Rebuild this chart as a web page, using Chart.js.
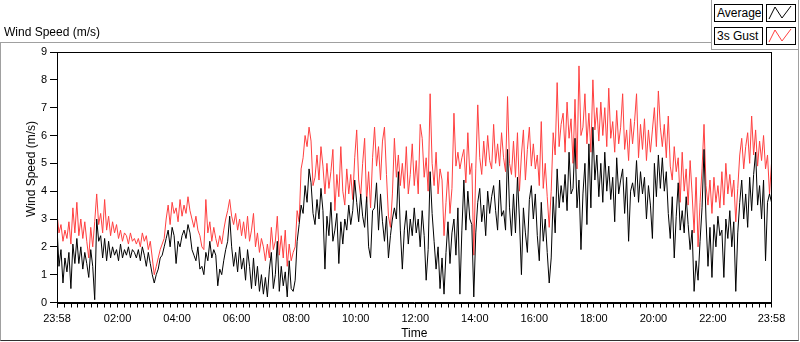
<!DOCTYPE html>
<html>
<head>
<meta charset="utf-8">
<script src="https://cdn.jsdelivr.net/npm/chart.js@4.4.1/dist/chart.umd.min.js"></script>
<style>
html,body{margin:0;padding:0;background:#fff;}
#wrap{position:relative;width:800px;height:342px;overflow:hidden;background:#fff;font-family:"Liberation Sans",Arial,sans-serif;color:#000;}
#frame{position:absolute;left:0;top:42px;width:799px;height:299px;box-sizing:border-box;border:1px solid #a0a0a0;border-bottom-color:#303030;}
#c{position:absolute;left:0;top:0;}
#title{position:absolute;left:4px;top:25px;font-size:12px;line-height:14px;white-space:nowrap;}
#ytitle{position:absolute;left:31px;top:169px;font-size:12px;line-height:14px;white-space:nowrap;transform:translate(-50%,-50%) rotate(-90deg);}
#legend{position:absolute;left:711px;top:-1px;width:88px;height:51px;box-sizing:border-box;border:1px solid #a0a0a0;background:#fff;}
.lbox{position:absolute;width:49px;height:18px;box-sizing:border-box;border:1px solid #000;font-size:12px;line-height:16px;padding-left:2px;white-space:nowrap;background:#fff;}
.ibox{position:absolute;width:30px;height:18px;box-sizing:border-box;border:1px solid #000;background:#fff;}
.ibox svg{position:absolute;left:0;top:0;}
</style>
</head>
<body>
<div id="wrap">
  <div id="frame"></div>
  <canvas id="c" width="800" height="342"></canvas>
  <div id="title">Wind Speed (m/s)</div>
  <div id="ytitle">Wind Speed (m/s)</div>
  <div id="legend"></div>
  <div class="lbox" style="left:714px;top:4px;">Average</div>
  <div class="ibox" style="left:766px;top:4px;"><svg width="28" height="16"><polyline points="2,14 8,2 15,13 24,1" fill="none" stroke="#000" stroke-width="1"/></svg></div>
  <div class="lbox" style="left:714px;top:27px;">3s Gust</div>
  <div class="ibox" style="left:766px;top:27px;"><svg width="28" height="16"><polyline points="2,14 8,2 15,13 24,1" fill="none" stroke="#ff4040" stroke-width="1"/></svg></div>
</div>
<script>
// ---- data (minutes since 23:58, one sample every 4 minutes) ----
const sampleStepMin = 4;
const avgSpeed = [
2.7,1.3,1.9,0.7,1.6, 1.1,1.8,0.5,2.1,1.4, 2.3,1.4,2.0,1.2,1.8, 1.4,0.9,1.9,1.3,0.1,
3.0,2.2,2.4,1.6,2.3, 1.5,2.2,1.6,2.0,1.7, 1.9,1.5,2.1,1.6,1.9, 1.7,2.0,1.6,1.9,1.8,
1.6,1.9,1.5,2.0,1.7, 1.3,1.8,1.4,1.0,0.7, 1.0,1.2,1.6,1.7,2.0, 2.3,2.6,2.0,2.7,2.4,
1.4,2.2,2.0,2.4,2.6, 2.3,2.8,2.5,1.9,1.7, 1.5,2.0,1.2,1.3,1.0, 1.8,1.5,2.2,1.6,1.9,
1.7,0.6,1.2,1.0,1.5, 1.9,2.2,3.1,2.0,1.3, 1.8,1.1,2.0,1.2,1.6, 0.8,1.9,1.3,0.5,1.6,
0.6,1.3,0.4,1.0,0.3, 0.9,0.2,1.2,1.8,0.5, 1.0,2.2,0.4,1.3,0.6, 1.1,0.2,1.5,0.5,0.4,
0.8,2.2,2.8,3.5,3.2, 4.2,3.6,4.8,4.3,3.2, 2.8,3.7,3.0,4.1,3.3, 1.2,3.1,2.4,3.6,2.2,
2.6,3.2,1.4,2.9,2.1, 3.0,2.6,3.5,2.8,3.3, 4.4,3.6,2.9,3.9,3.1, 2.7,3.8,2.0,1.6,3.3,
3.4,4.3,2.6,3.9,2.9, 2.2,3.1,1.6,2.4,3.0, 3.4,3.0,4.7,2.6,1.2, 2.6,3.3,2.1,3.0,2.4,
3.4,2.5,3.0,2.0,3.3, 2.4,0.8,1.9,4.7,3.2, 2.2,1.2,2.0,0.5,1.6, 0.3,1.8,2.9,1.4,2.5,
3.0,1.7,3.4,0.3,2.6, 4.4,2.6,4.0,3.0,2.8, 0.2,2.5,3.6,4.1,2.9, 3.5,2.4,4.0,3.2,3.8,
4.2,3.3,2.6,4.4,3.1, 3.3,2.6,5.5,3.4,2.4, 3.9,2.5,4.5,3.0,1.0, 3.4,2.5,1.8,3.7,4.2,
3.0,3.9,2.4,1.5,3.6, 2.2,3.0,1.8,0.7,1.6, 3.8,2.5,4.8,3.4,4.2, 3.6,4.6,3.3,5.4,3.9,
4.1,5.9,3.4,4.4,1.9, 3.9,5.0,2.8,5.7,3.4, 6.3,4.4,5.3,3.8,5.0, 3.6,5.4,4.0,4.9,3.7,
4.5,2.9,5.2,3.9,4.4, 4.8,3.2,4.5,2.2,4.0, 4.3,3.8,5.1,3.6,4.7, 3.9,4.5,3.0,4.2,3.5,
2.3,5.0,3.8,5.3,4.1, 5.2,4.0,4.7,3.2,2.3, 3.8,1.6,3.1,4.3,2.6, 3.3,2.5,3.8,2.8,1.9,
2.6,0.4,1.5,0.8,2.2, 3.4,5.5,3.0,1.3,2.7, 0.9,2.8,2.0,3.1,2.4, 2.6,0.9,3.0,2.3,3.3,
2.0,2.9,0.4,2.5,3.6, 4.4,3.0,3.9,2.7,4.5, 3.3,4.6,5.4,3.5,4.2, 3.0,4.4,1.5,3.6,3.9,
3.6
];
const gustSpeed = [
3.2,2.5,2.8,2.2,2.6, 2.3,2.9,2.1,3.4,2.5, 3.6,2.4,3.0,2.3,2.9, 2.2,1.6,2.7,2.0,2.9,
3.9,2.8,3.2,2.5,3.7, 2.6,3.1,2.4,2.9,2.5, 2.8,2.3,2.6,2.2,2.5, 2.4,2.1,2.5,2.2,2.3,
2.1,2.3,2.0,2.5,2.2, 2.4,1.9,2.2,1.6,1.0, 1.3,1.6,1.9,2.1,2.3, 3.0,3.5,2.8,3.6,3.2,
3.4,2.9,3.7,3.1,3.5, 3.2,3.8,3.3,3.0,2.7, 3.1,2.6,2.4,2.0,1.9, 3.7,2.5,2.9,2.2,2.7,
2.3,2.0,2.4,2.1,2.6, 3.0,3.3,3.7,3.1,2.8, 3.2,2.6,3.0,2.4,2.9, 2.3,3.1,2.2,2.6,3.2,
2.0,2.5,1.8,2.3,2.0, 1.5,2.1,1.6,2.7,1.9, 2.2,3.1,1.7,2.4,1.6, 2.6,1.3,2.1,1.5,1.8,
2.0,3.3,2.9,4.8,5.2, 6.0,5.6,6.3,5.8,4.2, 4.5,5.3,4.4,5.6,4.9, 3.9,5.0,4.1,4.7,5.5,
3.3,4.6,3.8,5.6,4.0, 3.5,4.8,3.9,4.6,3.7, 5.2,6.2,4.4,3.8,5.0, 5.9,3.6,4.7,3.4,5.2,
6.3,4.9,5.6,4.4,5.8, 6.3,4.6,3.1,2.7,3.9, 5.9,4.5,5.3,4.2,5.0, 4.1,5.6,3.9,4.6,5.7,
4.2,5.1,3.9,6.4,5.9, 4.5,5.2,4.0,7.5,5.0, 4.2,5.4,3.9,4.8,4.4, 2.4,3.6,4.7,3.2,4.1,
6.8,4.9,5.4,4.8,5.2, 5.5,4.3,6.1,4.6,5.0, 1.7,4.8,7.1,5.2,4.6, 5.8,4.9,6.0,5.1,4.8,
6.4,5.0,5.7,4.9,6.1, 5.2,4.7,7.4,5.0,4.6, 5.8,4.5,6.1,4.0,5.3, 6.2,4.4,5.5,6.3,4.9,
5.7,4.8,5.3,4.2,6.5, 4.1,5.0,3.8,2.7,4.0, 6.1,5.3,7.9,5.6,6.4, 6.8,5.4,7.2,5.9,6.6,
5.0,7.3,4.8,8.5,6.0, 6.3,7.5,5.7,6.8,5.4, 8.0,6.2,7.0,5.8,7.2, 6.0,7.0,5.6,7.7,5.9,
6.5,5.4,6.9,5.7,6.3, 7.5,5.5,6.2,5.1,6.6, 5.7,6.5,7.5,5.2,6.4, 5.5,6.6,5.1,6.2,5.4,
6.2,7.0,5.6,7.6,6.3, 5.6,6.4,5.2,6.7,4.9, 4.4,5.6,4.7,5.2,3.6, 5.4,4.0,4.8,3.5,5.1,
3.9,2.5,4.5,2.0,3.6, 4.8,6.4,4.2,3.5,4.4, 3.2,4.5,3.6,4.2,3.4, 4.7,3.5,5.0,3.9,4.6,
3.8,4.4,2.9,4.1,5.3, 5.9,4.8,5.6,6.1,5.0, 6.7,5.3,6.2,4.9,5.8, 5.1,6.0,4.8,5.3,3.9,
5.0
];
// ---- axes ----
const xTickMinutes = [0,122,242,362,482,602,722,842,962,1082,1202,1322,1440];
const xTickLabels = ['23:58','02:00','04:00','06:00','08:00','10:00','12:00','14:00','16:00','18:00','20:00','22:00','23:58'];
const xMinorPerMajor = 9;
const yMin = 0, yMax = 9;

const toPoints = arr => arr.map((v, i) => ({x: i * sampleStepMin, y: v}));

const frameBox = {
  id: 'frameBox',
  afterDatasetsDraw(chart) {
    const {ctx, chartArea: a} = chart;
    ctx.save();
    ctx.strokeStyle = '#000';
    ctx.lineWidth = 1;
    ctx.strokeRect(Math.round(a.left) + 0.5, Math.round(a.top) + 0.5,
                   Math.round(a.right - a.left) - 1, Math.round(a.bottom - a.top));
    ctx.restore();
  }
};

const fontTick = {family: '"Liberation Sans", Arial, sans-serif', size: 11};

new Chart(document.getElementById('c'), {
  type: 'line',
  data: {
    datasets: [
      {label: 'Average', data: toPoints(avgSpeed), borderColor: '#000000', borderWidth: 1, pointRadius: 0, tension: 0},
      {label: '3s Gust', data: toPoints(gustSpeed), borderColor: '#ff4040', borderWidth: 1, pointRadius: 0, tension: 0}
    ]
  },
  options: {
    responsive: false,
    animation: false,
    devicePixelRatio: 1,
    layout: {padding: {top: 52, right: 28.5, left: 0, bottom: 0}},
    plugins: {legend: {display: false}, tooltip: {enabled: false}},
    scales: {
      x: {
        type: 'linear',
        min: 0, max: 1440,
        afterFit: s => { s.height = 39.5; },
        afterBuildTicks: s => {
          const step = (xTickMinutes[2] - xTickMinutes[1]) / xMinorPerMajor;
          const t = xTickMinutes.map(v => ({value: v}));
          for (let m = xTickMinutes[1] - step; m > 2; m -= step) t.push({value: m});
          for (let m = xTickMinutes[1] + step; m < 1440 - 2; m += step) {
            if (!xTickMinutes.some(v => Math.abs(v - m) < 1)) t.push({value: m});
          }
          t.sort((a, b) => a.value - b.value);
          s.ticks = t;
        },
        ticks: {
          autoSkip: false, maxRotation: 0, minRotation: 0, padding: 5, color: '#000', font: fontTick,
          callback: v => { const i = xTickMinutes.indexOf(v); return i >= 0 ? xTickLabels[i] : ''; }
        },
        grid: {drawOnChartArea: false, drawTicks: true, tickLength: 5, color: '#000', tickColor: '#000'},
        border: {display: true, color: '#000', width: 1},
        title: {display: true, text: 'Time', color: '#000', font: {family: '"Liberation Sans", Arial, sans-serif', size: 12}, padding: {top: 0, bottom: 1}}
      },
      y: {
        min: yMin, max: yMax,
        afterFit: s => { s.width = 57; },
        ticks: {stepSize: 1, padding: 3, color: '#000', font: fontTick},
        grid: {drawOnChartArea: false, drawTicks: true, tickLength: 7, color: '#000', tickColor: '#000'},
        border: {display: true, color: '#000', width: 1}
      }
    }
  },
  plugins: [frameBox]
});
</script>
</body>
</html>
